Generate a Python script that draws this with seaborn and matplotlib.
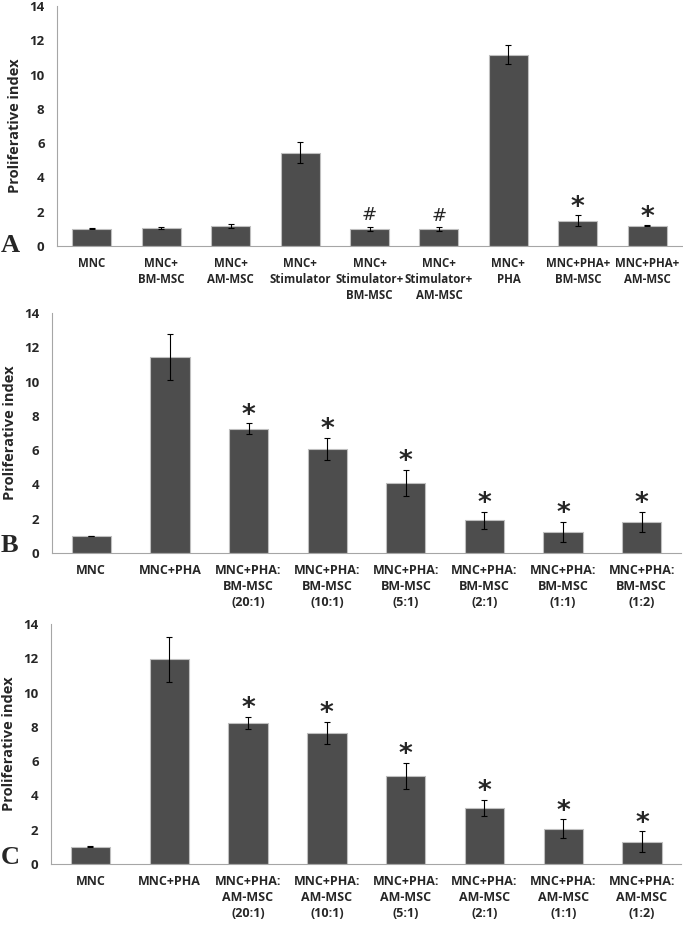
"""
Proliferative index of MNC under different co-culture conditions (panels A-C).
"""
import numpy as np
import seaborn as sns
import matplotlib.pyplot as plt

# Panel A
labels_a = ['MNC', 'MNC+\nBM-MSC', 'MNC+\nAM-MSC', 'MNC+\nStimulator',
            'MNC+\nStimulator+\nBM-MSC', 'MNC+\nStimulator+\nAM-MSC',
            'MNC+\nPHA', 'MNC+PHA+\nBM-MSC', 'MNC+PHA+\nAM-MSC']
vals_a = [1.0, 1.05, 1.16, 5.44, 0.99, 0.99, 11.17, 1.48, 1.18]
errs_a = [0.03, 0.05, 0.11, 0.62, 0.11, 0.10, 0.54, 0.33, 0.04]
marks_a = ['', '', '', '', '#', '#', '', '*', '*']

# Panel B
labels_b = ['MNC', 'MNC+PHA'] + ['MNC+PHA:\nBM-MSC\n(%s)' % r for r in
                                 ['20:1', '10:1', '5:1', '2:1', '1:1', '1:2']]
vals_b = [1.0, 11.43, 7.25, 6.09, 4.10, 1.91, 1.24, 1.83]
errs_b = [0.02, 1.33, 0.33, 0.64, 0.75, 0.50, 0.58, 0.59]
marks_b = ['', '', '*', '*', '*', '*', '*', '*']

# Panel C
labels_c = ['MNC', 'MNC+PHA'] + ['MNC+PHA:\nAM-MSC\n(%s)' % r for r in
                                 ['20:1', '10:1', '5:1', '2:1', '1:1', '1:2']]
vals_c = [1.0, 11.93, 8.25, 7.65, 5.15, 3.28, 2.05, 1.30]
errs_c = [0.02, 1.33, 0.35, 0.65, 0.75, 0.48, 0.55, 0.60]
marks_c = ['', '', '*', '*', '*', '*', '*', '*']

sns.set_style('white')
plt.rcParams['font.family'] = ['Open Sans', 'DejaVu Sans']

fig = plt.figure(figsize=(6.83, 9.27), dpi=100)
panels = [
    ('A', labels_a, vals_a, errs_a, marks_a, [0.0835, 0.7346, 0.915, 0.2589], 0.56, 8.3, 246),
    ('B', labels_b, vals_b, errs_b, marks_b, [0.0761, 0.4034, 0.921, 0.2589], 0.50, 9, 546),
    ('C', labels_c, vals_c, errs_c, marks_c, [0.0747, 0.0680, 0.923, 0.2589], 0.50, 9, 858),
]

axis_grey = '#a6a6a6'
for letter, labels, vals, errs, marks, rect, width, xfs, ly in panels:
    ax = fig.add_axes(rect)
    n = len(labels)
    x = np.arange(n)
    sns.barplot(x=labels, y=vals, color='#4d4d4d', saturation=1, width=width,
                edgecolor='#bfbfbf', linewidth=0.8, errorbar=None, ax=ax)
    ax.errorbar(x, vals, yerr=errs, fmt='none', ecolor='black',
                elinewidth=0.8, capsize=2, capthick=0.8)
    for xi, v, e, m in zip(x, vals, errs, marks):
        if m == '*':
            ax.annotate('*', (xi, v + e), xytext=(0, -4), textcoords='offset points',
                        ha='center', va='bottom', fontsize=19, fontweight='bold',
                        family=['DejaVu Sans'])
        elif m == '#':
            ax.annotate('#', (xi, v + e), xytext=(0, 2), textcoords='offset points',
                        ha='center', va='bottom', fontsize=13,
                        family=['DejaVu Sans'])

    ax.set_xlim(-0.5, n - 0.5)
    ax.set_ylim(0, 14)
    ax.set_yticks(range(0, 15, 2))
    ax.set_xticks(x, labels)
    ax.set_xticks(np.arange(-0.5, n), minor=True)
    ax.tick_params(axis='x', which='major', length=0, pad=8, labelsize=xfs)
    ax.tick_params(axis='x', which='minor', length=5, width=0.8, color=axis_grey)
    ax.tick_params(axis='y', length=4, width=0.8, color=axis_grey, labelsize=9.5, pad=5)
    for lab in ax.get_xticklabels():
        lab.set_fontweight('bold')
        lab.set_linespacing(1.3)
    for lab in ax.get_yticklabels():
        lab.set_fontweight('bold')
    ax.set_ylabel('Proliferative index', fontsize=10.5, fontweight='bold', labelpad=5)
    for side in ['top', 'right']:
        ax.spines[side].set_visible(False)
    for side in ['left', 'bottom']:
        ax.spines[side].set_color(axis_grey)
        ax.spines[side].set_linewidth(0.8)

    fig.text(1 / 683, 1 - ly / 927, letter, ha='left', va='center', fontsize=19,
             fontweight='bold', family=['Liberation Serif'])

fig.savefig('out.png', dpi=100)
